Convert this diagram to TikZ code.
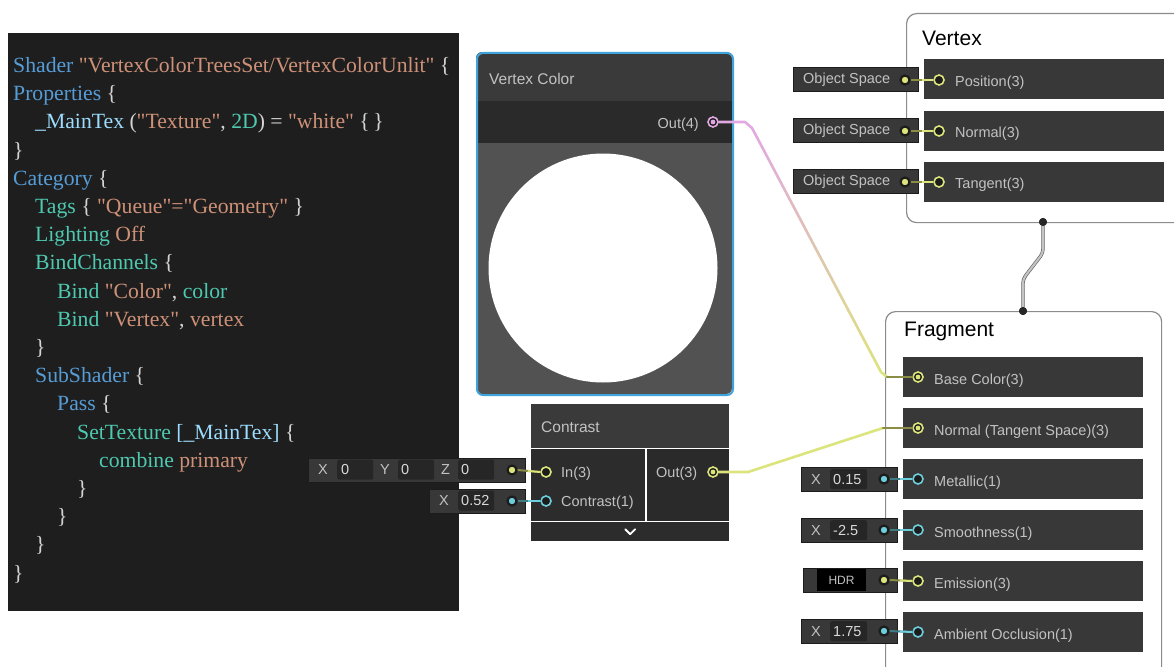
\documentclass[tikz,border=0pt]{standalone}
\usepackage{fontspec}
\setmainfont{Liberation Sans}
\newfontfamily\codefont{Liberation Serif}
\usetikzlibrary{calc}
\definecolor{codebg}{HTML}{1E1E1E}
\definecolor{kwblue}{HTML}{569CD6}
\definecolor{strorange}{HTML}{CE9178}
\definecolor{tealc}{HTML}{4EC9B0}
\definecolor{varblue}{HTML}{9CDCFE}
\definecolor{punct}{HTML}{D4D4D4}
\definecolor{rowc}{HTML}{383838}
\definecolor{titlec}{HTML}{3A3A3A}
\definecolor{outrowc}{HTML}{2A2A2A}
\definecolor{bodyc}{HTML}{2C2C2C}
\definecolor{previewc}{HTML}{525252}
\definecolor{labelc}{HTML}{C2C2C2}
\definecolor{fieldc}{HTML}{262626}
\definecolor{portbg}{HTML}{1C1C1C}
\definecolor{portyellow}{HTML}{DCE47C}
\definecolor{portcyan}{HTML}{6CCFDB}
\definecolor{portpink}{HTML}{E2A8E2}
\definecolor{olive}{HTML}{8A8E44}
\definecolor{selblue}{HTML}{3FA3DC}
\definecolor{framegray}{HTML}{8C8C8C}
\definecolor{vfline}{HTML}{C4C4C4}
\newcommand{\cKw}[1]{\textcolor{kwblue}{#1}}
\newcommand{\cStr}[1]{\textcolor{strorange}{#1}}
\newcommand{\cTl}[1]{\textcolor{tealc}{#1}}
\newcommand{\cVb}[1]{\textcolor{varblue}{#1}}
\tikzset{
  codeline/.style={anchor=base west, inner sep=0, font=\codefont\fontsize{21.7}{25}\selectfont, text=punct},
  lbl/.style={anchor=west, inner sep=0, font=\fontsize{14.5}{17}\selectfont, text=labelc},
  nodetitle/.style={anchor=west, inner sep=0, font=\fontsize{15.5}{18}\selectfont, text=labelc},
  ttl/.style={anchor=west, inner sep=0, font=\fontsize{21}{25}\selectfont, text=black},
  rowbox/.style={anchor=north west, fill=rowc, minimum width=#1, minimum height=40, inner sep=0},
  rowbox/.default=240,
  inbox/.style={anchor=north west, fill=rowc, draw=portbg, line width=0.6, minimum width=#1, minimum height=24, inner sep=0},
  field/.style={anchor=north west, fill=fieldc, rounded corners=2, minimum width=#1, minimum height=20, inner sep=0},
  port/.style={circle, draw=#1, line width=1.6, fill=portbg, minimum size=10, inner sep=0},
  portfull/.style={port=#1, path picture={\fill[#1] (path picture bounding box.center) circle (2.4pt);}},
  indot/.style={circle, fill=#1, draw=portbg, line width=2.2, minimum size=9, inner sep=0},
  stub/.style={draw=#1, line width=2},
  link/.style={draw=#1, line width=2.6, line cap=round, line join=round},
  vflink/.style={draw=gray!70!black, line width=0.6, double=vfline, double distance=2.2, rounded corners=4},
  blackdot/.style={circle, fill=black!85, minimum size=8, inner sep=0},
}
\begin{document}
\begin{tikzpicture}[x=1pt,y=-1pt]
\clip (0,0) rectangle (1174,666);
\useasboundingbox (0,0) rectangle (1174,666);
\fill[white] (0,0) rectangle (1174,666);

% ---------------- code panel ----------------
\node[fill=codebg, minimum width=451, minimum height=578, anchor=north west, inner sep=0] (codepanel) at (8,33) {};
\node[codeline] (c1) at (13,72.5) {\cKw{Shader} \cStr{"VertexColorTreesSet/VertexColorUnlit"} \{};
\node[codeline] (c2) at (13,100.7) {\cKw{Properties} \{};
\node[codeline] (c3) at (35,128.9) {\cVb{\_MainTex} (\cStr{"Texture"}, \cTl{2D}) = \cStr{"white"} \{\,\}};
\node[codeline] (c4) at (13,157.1) {\}};
\node[codeline] (c5) at (13,185.3) {\cKw{Category} \{};
\node[codeline] (c6) at (35,213.5) {\cTl{Tags} \{ \cStr{"Queue"="Geometry"} \}};
\node[codeline] (c7) at (35,241.7) {\cTl{Lighting} \cStr{Off}};
\node[codeline] (c8) at (35,269.9) {\cTl{BindChannels} \{};
\node[codeline] (c9) at (57,298.1) {\cTl{Bind} \cStr{"Color"}, \cTl{color}};
\node[codeline] (c10) at (57,326.3) {\cTl{Bind} \cStr{"Vertex"}, \cStr{vertex}};
\node[codeline] (c11) at (35,354.5) {\}};
\node[codeline] (c12) at (35,382.7) {\cKw{SubShader} \{};
\node[codeline] (c13) at (57,410.9) {\cKw{Pass} \{};
\node[codeline] (c14) at (77,439.1) {\cTl{SetTexture} \cVb{[\_MainTex]} \{};
\node[codeline] (c15) at (99,467.3) {\cTl{combine} \cStr{primary}};
\node[codeline] (c16) at (77,495.5) {\}};
\node[codeline] (c17) at (57,523.7) {\}};
\node[codeline] (c18) at (35,551.9) {\}};
\node[codeline] (c19) at (13,580.1) {\}};

% ---------------- Vertex Color node ----------------
\begin{scope}
\clip[rounded corners=6] (476,52) rectangle (732,394);
\fill[titlec] (476,52) rectangle (732,101);
\fill[outrowc] (476,101) rectangle (732,143);
\fill[previewc] (476,143) rectangle (732,394);
\end{scope}
\node[circle, fill=white, minimum size=229, inner sep=0] (preview) at (603,268) {};
\node[draw=selblue, line width=2, rounded corners=6, minimum width=256, minimum height=342, anchor=north west, inner sep=0] (vcnode) at (476,52) {};
\node[nodetitle] (vctitle) at (489,78.5) {Vertex Color};
\node[lbl, anchor=east] (vcoutlbl) at (699,124.5) {Out(4)};
\node[portfull=portpink] (vcout) at (713,122) {};

% ---------------- Vertex master block ----------------
\node[draw=framegray, line width=1.2, fill=white, rounded corners=10, minimum width=300, minimum height=209, anchor=north west, inner sep=0] (vertexblk) at (906,13) {};
\node[ttl] (vertextitle) at (922,38.5) {Vertex};
\node[rowbox] (rpos) at (924,59) {};
\node[rowbox] (rnrm) at (924,110.5) {};
\node[rowbox] (rtan) at (924,162) {};
\node[port=portyellow] (ppos) at (939,80) {};
\node[port=portyellow] (pnrm) at (939,131) {};
\node[port=portyellow] (ptan) at (939,182) {};
\node[lbl] (lpos) at (955,82.5) {Position(3)};
\node[lbl] (lnrm) at (955,133.5) {Normal(3)};
\node[lbl] (ltan) at (955,184.5) {Tangent(3)};
\node[inbox=125] (os1) at (793,67) {};
\node[inbox=125] (os2) at (793,118) {};
\node[inbox=125] (os3) at (793,169) {};
\node[lbl] (os1t) at (803,80) {Object Space};
\node[lbl] (os2t) at (803,131) {Object Space};
\node[lbl] (os3t) at (803,182) {Object Space};
\node[indot=portyellow] (os1d) at (905,80) {};
\node[indot=portyellow] (os2d) at (905,131) {};
\node[indot=portyellow] (os3d) at (905,182) {};
\draw[stub=olive] (os1d.east) -- (ppos.west);
\draw[stub=olive] (os2d.east) -- (pnrm.west);
\draw[stub=olive] (os3d.east) -- (ptan.west);
\draw[portyellow, line width=2] ($(os1d.east)!0.5!(ppos.west)$) -- (ppos.west);
\draw[portyellow, line width=2] ($(os2d.east)!0.5!(pnrm.west)$) -- (pnrm.west);
\draw[portyellow, line width=2] ($(os3d.east)!0.5!(ptan.west)$) -- (ptan.west);

% ---------------- Fragment master block ----------------
\node[draw=framegray, line width=1.2, fill=white, rounded corners=10, minimum width=276, minimum height=420, anchor=north west, inner sep=0] (fragblk) at (885,311) {};
\node[ttl] (fragtitle) at (904,331.5) {Fragment};
\node[rowbox] (rbase) at (903,357) {};
\node[rowbox] (rnt) at (903,408) {};
\node[rowbox] (rmet) at (903,459) {};
\node[rowbox] (rsmo) at (903,510) {};
\node[rowbox] (remi) at (903,561) {};
\node[rowbox] (rao) at (903,612) {};
\node[portfull=portyellow] (pbase) at (918,377) {};
\node[portfull=portyellow] (pnt) at (918,428) {};
\node[port=portcyan] (pmet) at (918,479) {};
\node[port=portcyan] (psmo) at (918,530) {};
\node[port=portyellow] (pemi) at (918,581) {};
\node[port=portcyan] (pao) at (918,632) {};
\node[lbl] (lbase) at (934,380.5) {Base Color(3)};
\node[lbl] (lnt) at (934,431.5) {Normal (Tangent Space)(3)};
\node[lbl] (lmet) at (934,482.5) {Metallic(1)};
\node[lbl] (lsmo) at (934,533.5) {Smoothness(1)};
\node[lbl] (lemi) at (934,584.5) {Emission(3)};
\node[lbl] (lao) at (934,635.5) {Ambient Occlusion(1)};

% inputs of fragment
\node[inbox=96] (imet) at (801,467) {};
\node[inbox=96] (ismo) at (801,518) {};
\node[inbox=94] (iemi) at (803,568) {};
\node[inbox=96] (iao) at (801,619) {};
\node[lbl] (imetx) at (811,479.5) {X};
\node[lbl] (ismox) at (811,530.5) {X};
\node[lbl] (iaox) at (811,631.5) {X};
\node[field=37] (fmet) at (830,469) {};
\node[field=37] (fsmo) at (830,520) {};
\node[field=37] (fao) at (830,621) {};
\node[fill=black, minimum width=49, minimum height=22, anchor=north west, inner sep=0] (femi) at (817,569) {};
\node[lbl, text=white!85!black] (vmet) at (833,479.5) {0.15};
\node[lbl, text=white!85!black] (vsmo) at (833,530.5) {-2.5};
\node[lbl, text=white!85!black] (vao) at (833,631.5) {1.75};
\node[font=\fontsize{12}{14}\selectfont, text=labelc, inner sep=0] (vemi) at (841.5,580.5) {HDR};
\node[indot=portcyan] (dmet) at (884,479) {};
\node[indot=portcyan] (dsmo) at (884,530) {};
\node[indot=portyellow] (demi) at (884,580) {};
\node[indot=portcyan] (dao) at (884,631) {};
\draw[stub=portcyan!60!black] (dmet.east) -- (pmet.west);
\draw[stub=portcyan!60!black] (dsmo.east) -- (psmo.west);
\draw[stub=olive] (demi.east) -- (pemi.west);
\draw[stub=portcyan!60!black] (dao.east) -- (pao.west);
\draw[portcyan, line width=2] ($(dmet.east)!0.45!(pmet.west)$) -- (pmet.west);
\draw[portcyan, line width=2] ($(dsmo.east)!0.45!(psmo.west)$) -- (psmo.west);
\draw[portyellow, line width=2] ($(demi.east)!0.45!(pemi.west)$) -- (pemi.west);
\draw[portcyan, line width=2] ($(dao.east)!0.45!(pao.west)$) -- (pao.west);

% vertex -> fragment link
\node[blackdot] (vtxout) at (1043,222) {};
\node[blackdot] (frgin) at (1023,311) {};
\coordinate (vk1) at (1043,253);
\coordinate (vk2) at (1023,279);
\draw[vflink] (vtxout.south) -- (vk1) -- (vk2) -- (frgin.north);
\node[blackdot] at (vtxout) {};
\node[blackdot] at (frgin) {};

% ---------------- Contrast node ----------------
\node[fill=titlec, minimum width=198, minimum height=43.5, anchor=north west, inner sep=0] (ctitlebar) at (531,404) {};
\node[fill=bodyc, minimum width=114, minimum height=71.5, anchor=north west, inner sep=0] (cleft) at (531,449) {};
\node[fill=outrowc, minimum width=82.5, minimum height=71.5, anchor=north west, inner sep=0] (cright) at (646.5,449) {};
\node[fill=bodyc, minimum width=198, minimum height=19, anchor=north west, inner sep=0] (cbottom) at (531,522) {};
\node[nodetitle] (ctitle) at (541,427.5) {Contrast};
\draw[white, line width=1.8, line cap=round, line join=round] ($(cbottom.center)+(-5,-2.5)$) -- ($(cbottom.center)+(0,2.5)$) -- ($(cbottom.center)+(5,-2.5)$);
\node[port=portyellow] (cin) at (546,472) {};
\node[port=portcyan] (ccon) at (546,501) {};
\node[lbl] (lcin) at (561,474) {In(3)};
\node[lbl] (lccon) at (561,503) {Contrast(1)};
\node[lbl] (lcout) at (656,474) {Out(3)};
\node[portfull=portyellow] (cout) at (713,472) {};

% contrast inputs
\node[inbox=217] (ixyz) at (308,457.5) {};
\node[inbox=96] (icon) at (429,488.5) {};
\node[lbl] (ixl) at (318,470) {X};
\node[lbl] (iyl) at (380,470) {Y};
\node[lbl] (izl) at (441,470) {Z};
\node[field=36] (fx) at (337,459.5) {};
\node[field=36] (fy) at (398,459.5) {};
\node[field=36] (fz) at (458,459.5) {};
\node[lbl, text=white!85!black] (vx) at (341,470) {0};
\node[lbl, text=white!85!black] (vy) at (401,470) {0};
\node[lbl, text=white!85!black] (vz) at (461,470) {0};
\node[lbl] (icx) at (439,500.5) {X};
\node[field=36] (fc) at (458,490.5) {};
\node[lbl, text=white!85!black] (vc) at (461,500.5) {0.52};
\node[indot=portyellow] (dxyz) at (512,470) {};
\node[indot=portcyan] (dcon) at (512,501) {};
\draw[stub=olive] (dxyz.east) -- (cin.west);
\draw[stub=portcyan!60!black] (dcon.east) -- (ccon.west);
\draw[portyellow, line width=2] ($(dxyz.east)!0.45!(cin.west)$) -- (cin.west);
\draw[portcyan, line width=2] ($(dcon.east)!0.45!(ccon.west)$) -- (ccon.west);

% ---------------- main links ----------------
\coordinate (k1) at (745,122);
\coordinate (k2) at (752,128);
\coordinate (k3) at (881,372);
\coordinate (k4) at (887,377);
\draw[link=portpink] (vcout.east) -- (k1) -- (k2);
\foreach \i in {0,...,23}{
  \pgfmathsetmacro\ta{\i/24}
  \pgfmathsetmacro\tb{(\i+1)/24}
  \pgfmathtruncatemacro\pc{100-4.2*\i}
  \draw[link=portpink!\pc!portyellow] ($(k2)!\ta!(k3)$) -- ($(k2)!\tb!(k3)$);
}
\draw[link=portyellow] (k3) -- (k4);
\draw[link=olive] (k4) -- (pbase.west);

\coordinate (m1) at (748,472);
\coordinate (m2) at (883,428);
\draw[link=portyellow] (cout.east) -- (m1) -- (m2);
\draw[link=olive] (m2) -- (pnt.west);
\end{tikzpicture}
\end{document}
